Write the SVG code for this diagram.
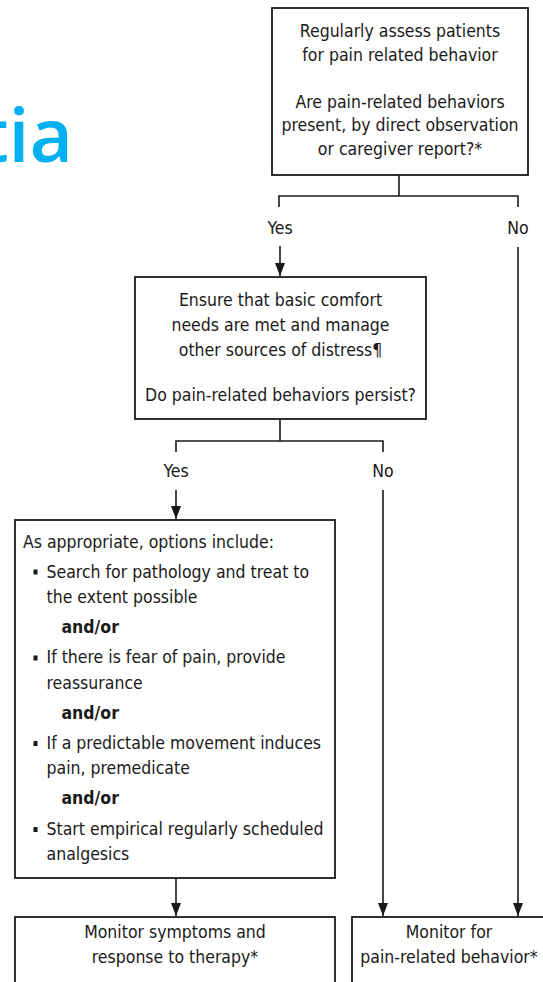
<svg xmlns="http://www.w3.org/2000/svg" width="543" height="982" viewBox="0 0 543 982">
<style>
.box{fill:#fff;stroke:#1a1a1a;stroke-width:1.8}
.ln{fill:none;stroke:#1a1a1a;stroke-width:1.6}
.t{font-family:"DejaVu Sans Condensed","DejaVu Sans",sans-serif;font-stretch:condensed;font-size:17.5px;fill:#1a1a1a}
.c{text-anchor:middle}
.b{font-weight:bold}
.title{font-family:"Open Sans","Noto Sans",sans-serif;font-weight:600;font-size:75px;fill:#00B0F0;text-anchor:end}
</style>
<defs>
<marker id="ah" markerUnits="userSpaceOnUse" markerWidth="14" markerHeight="11" refX="13" refY="5" orient="auto">
<path d="M0,0 L13,5 L0,10 z" fill="#1a1a1a"/>
</marker>
</defs>
<rect width="543" height="982" fill="#fff"/>
<text class="title" x="73" y="162">tia</text>

<g id="connectors">
<path class="ln" d="M399,175 V196 M279,207 V196 H518 V207"/>
<path class="ln" d="M280,246 V276" marker-end="url(#ah)"/>
<path class="ln" d="M518,247 V916" marker-end="url(#ah)"/>
<path class="ln" d="M280,419 V441 M176,452 V441 H383 V452"/>
<path class="ln" d="M176,490 V519" marker-end="url(#ah)"/>
<path class="ln" d="M383,490 V916" marker-end="url(#ah)"/>
<path class="ln" d="M176,878 V916" marker-end="url(#ah)"/>
<text class="t c" x="280" y="234">Yes</text>
<text class="t c" x="518" y="234">No</text>
<text class="t c" x="176" y="477">Yes</text>
<text class="t c" x="383" y="477">No</text>
</g>

<g id="assess">
<rect class="box" x="272" y="8" width="256" height="167"/>
<text class="t c" x="400" y="37">Regularly assess patients</text>
<text class="t c" x="400" y="61">for pain related behavior</text>
<text class="t c" x="400" y="107.5">Are pain-related behaviors</text>
<text class="t c" x="400" y="131">present, by direct observation</text>
<text class="t c" x="400" y="154.5">or caregiver report?*</text>
</g>

<g id="comfort">
<rect class="box" x="135" y="277" width="291" height="142"/>
<text class="t c" x="280.5" y="306">Ensure that basic comfort</text>
<text class="t c" x="280.5" y="331">needs are met and manage</text>
<text class="t c" x="280.5" y="356">other sources of distress¶</text>
<text class="t c" x="280.5" y="401">Do pain-related behaviors persist?</text>
</g>

<g id="options">
<rect class="box" x="15" y="520" width="320" height="358"/>
<text class="t" x="23" y="548">As appropriate, options include:</text>
<rect x="33.5" y="569.5" width="4" height="5" fill="#1a1a1a"/>
<text class="t" x="46.5" y="577.5">Search for pathology and treat to</text>
<text class="t" x="46.5" y="603">the extent possible</text>
<text class="t b" x="61.5" y="633">and/or</text>
<rect x="33.5" y="655.5" width="4" height="5" fill="#1a1a1a"/>
<text class="t" x="46.5" y="663">If there is fear of pain, provide</text>
<text class="t" x="46.5" y="688.5">reassurance</text>
<text class="t b" x="61.5" y="718.5">and/or</text>
<rect x="33.5" y="741" width="4" height="5" fill="#1a1a1a"/>
<text class="t" x="46.5" y="748.5">If a predictable movement induces</text>
<text class="t" x="46.5" y="774">pain, premedicate</text>
<text class="t b" x="61.5" y="804">and/or</text>
<rect x="33.5" y="827" width="4" height="5" fill="#1a1a1a"/>
<text class="t" x="46.5" y="834.5">Start empirical regularly scheduled</text>
<text class="t" x="46.5" y="860">analgesics</text>
</g>

<g id="monitor-therapy">
<rect class="box" x="15" y="917" width="320" height="90"/>
<text class="t c" x="175" y="938">Monitor symptoms and</text>
<text class="t c" x="175" y="963">response to therapy*</text>
</g>

<g id="monitor-behavior">
<rect class="box" x="352" y="917" width="194" height="90"/>
<text class="t c" x="449" y="938">Monitor for</text>
<text class="t c" x="449" y="963">pain-related behavior*</text>
</g>
</svg>
